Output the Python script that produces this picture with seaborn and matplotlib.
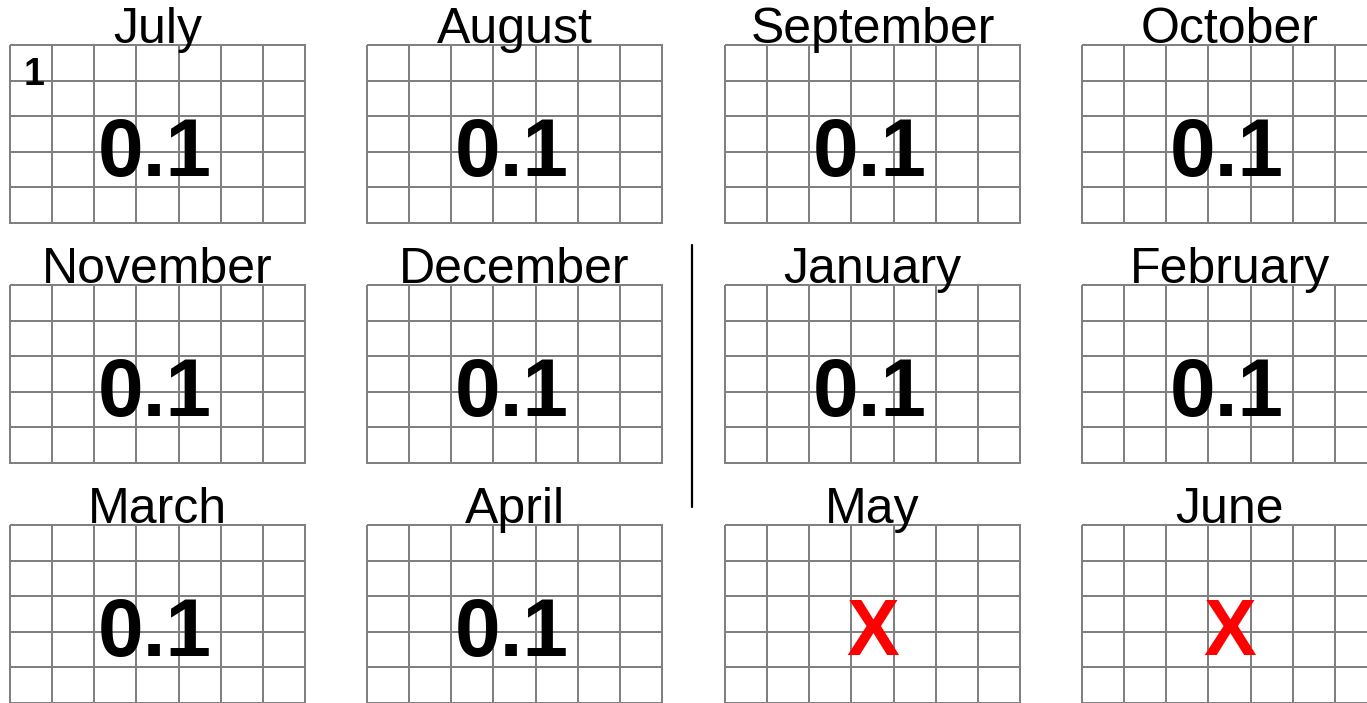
import numpy as np
import matplotlib
matplotlib.use("Agg")
import matplotlib.pyplot as plt
from matplotlib.colors import ListedColormap
from matplotlib.lines import Line2D
import seaborn as sns

# data
months = ['July', 'August', 'September', 'October',
          'November', 'December', 'January', 'February',
          'March', 'April', 'May', 'June']
values = [0.1, 0.1, 0.1, 0.1, 0.1, 0.1, 0.1, 0.1, 0.1, 0.1, None, None]
first_day = {'July': '1'}

sns.set_style('white')
plt.rcParams['font.family'] = ['Liberation Sans', 'DejaVu Sans']

W, H = 1367, 703
fig = plt.figure(figsize=(W / 100, H / 100), dpi=100)

# pixel layout of the month boxes
col_left = [10, 367, 725, 1082]
row_top = [45, 285, 525]
box_w, box_h = 295, 178

for i, month in enumerate(months):
    r, c = divmod(i, 4)
    left = col_left[c] / W
    bottom = 1 - (row_top[r] + box_h) / H
    ax = fig.add_axes([left, bottom, box_w / W, box_h / H])
    sns.heatmap(np.zeros((5, 7)), cmap=ListedColormap(['white']), cbar=False,
                linewidths=1.4, linecolor='#808080',
                xticklabels=False, yticklabels=False, ax=ax)
    for coll in ax.collections:
        coll.set_clip_on(False)

    # month name
    ax.text(0.5, 1.01, month, transform=ax.transAxes, ha='center',
            va='baseline', fontsize=36, color='black')

    # value or missing mark
    v = values[i]
    if v is None:
        ax.text(0.5, 0.27, 'X', transform=ax.transAxes, ha='center',
                va='baseline', fontsize=57, fontweight='bold', color='#ff0000')
    else:
        ax.text(0.49, 0.265, f'{v:.1f}', transform=ax.transAxes, ha='center',
                va='baseline', fontsize=59, fontweight='bold', color='black')

    if month in first_day:
        ax.text(0.045, 0.775, first_day[month], transform=ax.transAxes,
                ha='left', va='baseline', fontsize=27, fontweight='bold',
                color='black')

# divider between the calendar halves
fig.add_artist(Line2D([692 / W, 692 / W], [1 - 507 / H, 1 - 245 / H],
                      color='black', linewidth=1.6))

fig.savefig('out.png', dpi=100)
